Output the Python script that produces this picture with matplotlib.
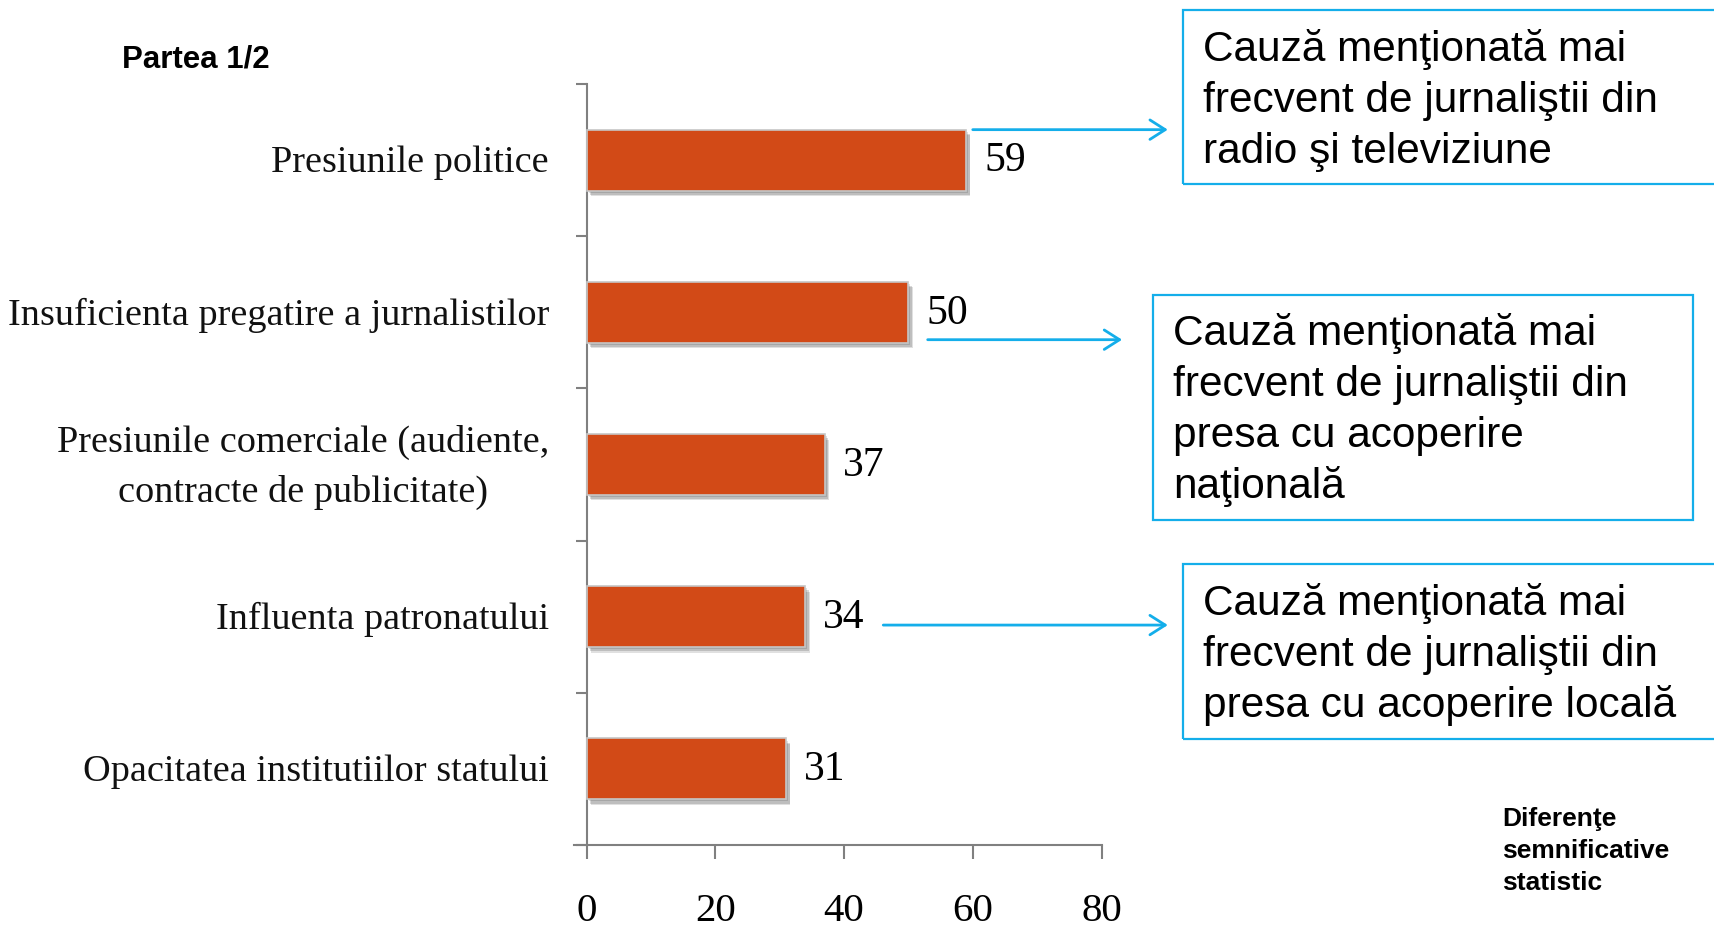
import matplotlib
matplotlib.use("Agg")
import matplotlib.pyplot as plt
import matplotlib.patheffects as pe
from matplotlib.patches import Rectangle
import numpy as np

# data
categories = [
    "Presiunile politice",
    "Insuficienta pregatire a jurnalistilor",
    "Presiunile comerciale (audiente,\ncontracte de publicitate)",
    "Influenta patronatului",
    "Opacitatea institutiilor statului",
]
values = [59, 50, 37, 34, 31]
xticks = [0, 20, 40, 60, 80]

notes = [
    ["Cauză menţionată mai", "frecvent de jurnaliştii din", "radio şi televiziune"],
    ["Cauză menţionată mai", "frecvent de jurnaliştii din", "presa cu acoperire", "naţională"],
    ["Cauză menţionată mai", "frecvent de jurnaliştii din", "presa cu acoperire locală"],
]
note_bars = [0, 1, 3]          # which bar each note points from
title_text = "Partea 1/2"
footnote_lines = ["Diferenţe", "semnificative", "statistic"]

BAR = "#D24A17"
BLUE = "#14AEEA"
AXIS = "#808080"
SERIF = "Liberation Serif"
SANS = "Liberation Sans"

W, H = 1715, 929
fig = plt.figure(figsize=(W / 100, H / 100), dpi=100)


def fx(x):
    return x / W


def fy(y):
    return 1 - y / H


ax = fig.add_axes([fx(574), fy(846), (1101.5 - 574) / W, (846 - 85) / H])

bars = ax.barh(range(len(values)), values, height=0.4, color=BAR,
               edgecolor="#c6c6c6", linewidth=1.2, zorder=3)
for b in bars:
    b.set_path_effects([
        pe.SimplePatchShadow(offset=(1.5, -1.5), shadow_rgbFace="k", alpha=0.12),
        pe.SimplePatchShadow(offset=(2.5, -3.0), shadow_rgbFace="k", alpha=0.15),
        pe.SimplePatchShadow(offset=(3.0, -4.0), shadow_rgbFace="k", alpha=0.12),
        pe.Normal(),
    ])

ax.set_xlim(-12.5 / 6.4375, 80)
ax.set_ylim(len(values) - 0.5, -0.5)

for s in ["top", "right"]:
    ax.spines[s].set_visible(False)
ax.spines["left"].set_position(("data", 0))
for s in ["left", "bottom"]:
    ax.spines[s].set_color(AXIS)
    ax.spines[s].set_linewidth(1.5)

ax.set_xticks(xticks)
ax.set_xticklabels([str(t) for t in xticks], family=SERIF, fontsize=29.5)
ax.tick_params(axis="x", direction="out", length=10, width=1.5, color=AXIS, pad=24)

# ticks sit between the categories
ax.set_yticks(np.arange(-0.5, len(values), 1))
ax.set_yticklabels([])
ax.tick_params(axis="y", direction="out", length=8, width=1.5, color=AXIS)

# category names, right-aligned against the axis
for i, cat in enumerate(categories):
    ax.annotate(cat, xy=(0, i), xytext=(-27, -1.5), textcoords="offset points",
                ha="right", va="center", multialignment="center",
                linespacing=1.55, family=SERIF, fontsize=27.5, color="#111111")

# value labels
for i, v in enumerate(values):
    ax.annotate(str(v), xy=(v, i), xytext=(13, 0), textcoords="offset points",
                va="center", ha="left", family=SERIF, fontsize=30)

# arrows from the bars to the notes
arrow_rows = [(-0.20, 60.0, 90.3), (0.18, 53.0, 83.2), (0.055, 46.1, 90.3)]
for bi, (dy, x0, x1) in zip(note_bars, arrow_rows):
    ax.annotate("", xy=(x1, bi + dy), xytext=(x0, bi + dy),
                annotation_clip=False,
                arrowprops=dict(arrowstyle="->,head_length=0.55,head_width=0.35",
                                color=BLUE, lw=2, mutation_scale=20,
                                shrinkA=0, shrinkB=0))

# note boxes (pixel layout: left, top, right, bottom, first baseline)
boxes = [(1183, 11, 1725, 185, 61), (1153, 296, 1693, 521, 345), (1183, 565, 1725, 740, 615)]
for (l, t, r, btm, base), lines in zip(boxes, notes):
    fig.add_artist(Rectangle((fx(l), fy(btm)), (r - l) / W, (btm - t) / H,
                             transform=fig.transFigure, fill=False,
                             edgecolor=BLUE, linewidth=1.6))
    for k, line in enumerate(lines):
        fig.text(fx(l + 20), fy(base + k * 51), line, family=SANS, fontsize=30.5,
                 ha="left", va="baseline")

fig.text(fx(122), fy(68), title_text, family=SANS, fontsize=22.5,
         fontweight="bold", ha="left", va="baseline")

for k, line in enumerate(footnote_lines):
    fig.text(fx(1502), fy(826 + k * 32), line, family=SANS, fontsize=19,
             fontweight="bold", ha="left", va="baseline")

fig.savefig("out.png", dpi=100)
